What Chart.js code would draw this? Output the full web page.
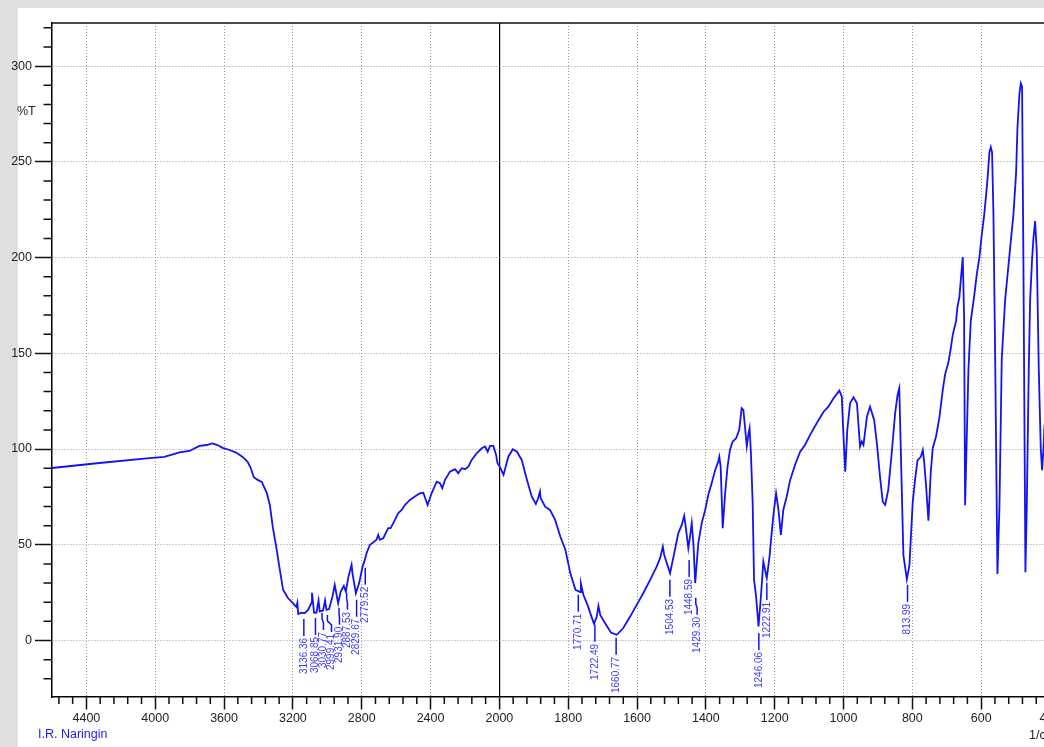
<!DOCTYPE html>
<html>
<head>
<meta charset="utf-8">
<title>I.R. Naringin</title>
<script src="https://cdn.jsdelivr.net/npm/chart.js@4.4.1/dist/chart.umd.min.js"></script>
<style>
  html, body { margin: 0; padding: 0; overflow: hidden; background: #dfdfe1; }
  #panel { position: absolute; left: 18px; top: 8px; right: 0; bottom: 0; background: #fff; }
  #wrap { position: absolute; left: 0; top: 0; width: 1080px; height: 747px; }
</style>
</head>
<body>
<div id="panel"></div>
<div id="wrap"><canvas id="irChart" width="1080" height="747"></canvas></div>
<script>
"use strict";

// spectrum (1/cm, %T)
const wavenumber = [
  4600, 4325, 4034, 3947, 3859, 3801, 3743, 3702, 3667, 3638, 3609, 3568, 3527, 3492, 3463, 3445,
  3428, 3405, 3381, 3352, 3334, 3317, 3294, 3276, 3257, 3230, 3201, 3180, 3174, 3169, 3150, 3131,
  3112, 3092, 3089, 3077, 3063, 3051, 3044, 3025, 3013, 3005, 2990, 2970, 2957, 2937, 2922, 2904,
  2892, 2879, 2859, 2854, 2834, 2815, 2795, 2782, 2772, 2753, 2714, 2704, 2695, 2675, 2646, 2632,
  2607, 2588, 2568, 2549, 2520, 2491, 2463, 2442, 2417, 2394, 2364, 2345, 2332, 2316, 2287, 2258,
  2239, 2219, 2200, 2180, 2161, 2132, 2102, 2083, 2068, 2054, 2035, 2019, 2011, 2000,
  1988, 1974, 1961, 1949, 1935, 1920, 1906, 1894, 1888, 1882, 1880, 1867, 1853, 1838, 1823, 1808,
  1794, 1779, 1765, 1763, 1756, 1744, 1736, 1725, 1717, 1712, 1707, 1693, 1676, 1659, 1640, 1620,
  1601, 1582, 1562, 1543, 1533, 1525, 1521, 1504, 1490, 1480, 1470, 1463, 1458, 1451, 1446, 1441,
  1436, 1431, 1422, 1412, 1402, 1393, 1383, 1373, 1364, 1361, 1357, 1351, 1344, 1337, 1330, 1322,
  1312, 1303, 1296, 1291, 1281, 1276, 1273, 1269, 1264, 1260, 1254, 1247, 1240, 1233, 1223, 1215,
  1208, 1202, 1196, 1189, 1182, 1175, 1165, 1155, 1141, 1126, 1112, 1097, 1078, 1058, 1044, 1029,
  1012, 1005, 1000, 995, 989, 981, 971, 961, 952, 947, 942, 932, 923, 911, 903, 894,
  886, 879, 870, 860, 850, 843, 838, 834, 826, 816, 808.5, 799, 792, 785, 775.5, 769.7,
  766, 760, 753.3, 746.5, 740.7, 731, 721.3, 711.6, 704.8, 695.1, 688.4, 682.5, 672.9, 669, 663.2, 658.3,
  653.5, 649.6, 646.7, 641.9, 637, 630.2, 620.6, 612.8, 605.1, 598.3, 591.5, 585.7, 581.8, 576, 572.1, 568.3,
  564.4, 559.5, 552.7, 546.9, 540.2, 530.5, 523.7, 516, 506.2, 498.5, 494.6, 488.8, 484.9, 481.1, 477.2, 471.4,
  467.5, 461.7, 457.8, 452, 448.1, 443.3, 438.4, 432.6, 426.8, 423, 419, 416, 410, 400
];
const transmittance = [
  90.1, 92.7, 95.3, 95.9, 98.2, 99.0, 101.6, 102.1, 102.9, 102.1, 100.6, 99.5, 98.0, 95.9, 93.3, 90.1,
  85.4, 83.9, 82.8, 77.1, 70.8, 59.3, 47.3, 36.9, 26.5, 22.3, 19.7, 17.6, 19.7, 13.9, 14.5, 14.3,
  16.0, 19.7, 24.9, 14.5, 14.6, 20.9, 15.1, 15.7, 20.9, 16.0, 16.4, 23.0, 29.1, 19.5, 25.6, 28.5,
  25.6, 32.6, 39.5, 35.2, 24.7, 30.0, 38.6, 42.1, 45.6, 49.9, 52.6, 55.2, 52.6, 53.4, 58.7, 58.7,
  63.0, 66.5, 68.2, 70.8, 73.4, 75.2, 76.9, 77.2, 70.8, 76.9, 83.0, 82.2, 79.5, 83.9, 88.2, 89.5,
  87.4, 90.0, 89.5, 90.8, 94.3, 97.8, 100.4, 101.3, 98.6, 101.6, 101.6, 96.9, 92.6, 91.2,
  86.5, 96.0, 99.9, 98.6, 94.3, 83.9, 75.2, 71.3, 74.0, 77.8, 74.3, 69.9, 68.2, 63.0, 54.3, 47.3,
  35.2, 26.5, 25.3, 29.6, 23.9, 18.6, 14.3, 8.7, 12.5, 18.1, 13.4, 9.1, 4.2, 3.0, 6.5, 12.5,
  18.6, 24.7, 31.7, 38.6, 43.0, 49.1, 44.7, 35.2, 47.3, 56.1, 60.4, 65.1, 58.7, 48.2, 54.3, 61.3,
  50.0, 30.0, 50.8, 61.3, 68.2, 76.0, 82.2, 89.1, 93.4, 96.0, 90.8, 58.7, 76.9, 90.8, 99.5, 103.9,
  105.6, 110.0, 121.3, 120.4, 101.3, 108.2, 110.9, 97.8, 71.7, 31.7, 23.0, 7.3, 23.0, 41.2, 32.6, 43.8,
  57.8, 68.2, 76.9, 68.2, 55.2, 68.2, 75.2, 83.9, 91.7, 98.6, 102.1, 107.4, 113.5, 119.5, 122.1, 126.5,
  130.5, 127.3, 106.5, 88.2, 110.0, 123.9, 127.0, 123.9, 101.3, 103.9, 102.1, 116.9, 122.1, 115.2, 103.0, 85.6,
  72.5, 70.8, 78.7, 97.8, 118.7, 128.2, 131.7, 103.0, 44.6, 32.0, 39.2, 72.0, 84.2, 94.1, 95.9, 99.5,
  94.1, 80.6, 62.6, 87.8, 100.4, 106.7, 116.5, 130.9, 139.0, 145.3, 152.5, 159.7, 166.9, 174.1, 179.5, 190.3,
  200.2, 168.7, 70.7, 105.8, 141.7, 166.9, 179.5, 191.2, 200.2, 211.9, 221.8, 232.6, 240.6, 255.0, 257.7, 255.0,
  222.7, 150.7, 34.7, 69.8, 147.1, 177.7, 190.3, 204.7, 222.7, 244.2, 267.6, 285.6, 291.0, 289.2, 195.7, 35.6,
  69.8, 141.7, 177.7, 199.3, 210.1, 219.1, 202.9, 141.7, 100.0, 89.0, 100.0, 112.0, 120.0, 126.0
];

// peak table printed under the curve
const peakLabels = ["3136.36", "3068.85", "3030.77", "2999.41", "2931.90", "2887.53", "2829.67", "2779.52",
  "1770.71", "1722.49", "1660.77", "1504.53", "1448.59", "1429.30", "1246.06", "1222.91", "813.99"];
const peakT = [13.9, 14.4, 17.0, 16.0, 19.7, 27.5, 23.9, 40.6,
  26.5, 10.8, 4.0, 34.3, 44.7, 24.9, 6.6, 32.7, 31.7];

// axes
const xMin = 400, xMax = 4600, xBreak = 2000;
const xTicks = [4400, 4000, 3600, 3200, 2800, 2400, 2000, 1800, 1600, 1400, 1200, 1000, 800, 600, 400];
const yTicks = [0, 50, 100, 150, 200, 250, 300];
const yMin = -29.5, yMax = 322.5;

// above 2000 1/cm the printout uses half the scale of the part below it
const xSpan = (xMax - xBreak) + 2 * (xBreak - xMin);
function toDecimal(v) {
  return v >= xBreak ? (xMax - v) / xSpan : (xMax - xBreak + 2 * (xBreak - v)) / xSpan;
}
function fromDecimal(d) {
  const u = d * xSpan;
  return u <= xMax - xBreak ? xMax - u : xBreak - (u - (xMax - xBreak)) / 2;
}

class SplitScale extends Chart.LinearScale {
  static id = "split";
  static defaults = {};
  getPixelForValue(value) {
    if (value === null || value === undefined) return NaN;
    return this.getPixelForDecimal(toDecimal(value));
  }
  getValueForPixel(pixel) {
    return fromDecimal(this.getDecimalForPixel(pixel));
  }
}
Chart.register(SplitScale);

const minorX = [];
for (let v = 4560; v > xBreak; v -= 80) if (v % 400 !== 0) minorX.push(v);
for (let v = 1960; v > xMin; v -= 40) if (v % 200 !== 0) minorX.push(v);

const tickFont = { family: "'Liberation Sans Narrow', 'Liberation Sans', Arial, sans-serif", size: 12.5 };
const blue = "#1212f4";

const decorations = {
  id: "irDecor",
  afterDatasetsDraw(chart) {
    const { ctx, chartArea: a, scales: { x, y } } = chart;
    ctx.save();
    ctx.beginPath();
    ctx.rect(a.left, a.top, a.right - a.left, a.bottom - a.top);
    ctx.clip();
    ctx.strokeStyle = blue;
    ctx.fillStyle = "#3b3bff";
    ctx.lineWidth = 1.5;
    ctx.font = "10px 'Liberation Sans', Arial, sans-serif";
    let prevX = -100;
    peakLabels.forEach((label, i) => {
      const wn = parseFloat(label);
      const px = x.getPixelForValue(wn);
      const tx = Math.max(px, prevX + 8);
      prevX = tx;
      const y0 = y.getPixelForValue(peakT[i]) + 5;
      ctx.beginPath();
      ctx.moveTo(px, y0);
      ctx.lineTo(px, y0 + 6);
      ctx.lineTo(tx, y0 + 10);
      ctx.lineTo(tx, y0 + 17);
      ctx.stroke();
      ctx.save();
      ctx.translate(tx, y0 + 19);
      ctx.rotate(-Math.PI / 2);
      ctx.textAlign = "right";
      ctx.textBaseline = "middle";
      ctx.fillText(label, 0, 0);
      ctx.restore();
    });
    ctx.restore();
  },
  afterDraw(chart) {
    const { ctx, chartArea: a, scales: { x, y } } = chart;
    ctx.save();
    ctx.strokeStyle = "#111";
    ctx.lineWidth = 1.5;
    ctx.beginPath();
    for (let v = -20; v <= 320; v += 10) {
      if (v % 50 === 0) continue;
      const py = y.getPixelForValue(v);
      ctx.moveTo(a.left - 8.5, py);
      ctx.lineTo(a.left, py);
    }
    minorX.forEach(v => {
      const px = x.getPixelForValue(v);
      ctx.moveTo(px, a.bottom);
      ctx.lineTo(px, a.bottom + 7);
    });
    ctx.moveTo(a.left, a.top);
    ctx.lineTo(a.right, a.top);
    ctx.lineTo(a.right, a.bottom);
    ctx.stroke();

    ctx.font = "12.5px " + tickFont.family;
    ctx.textBaseline = "middle";
    ctx.textAlign = "left";
    ctx.fillStyle = "#222";
    ctx.fillText("%T", 17, 112);
    ctx.fillText("1/cm", 1029, 736);
    ctx.fillStyle = "#1c1cf0";
    ctx.fillText("I.R. Naringin", 38, 735);
    ctx.restore();
  }
};

const points = wavenumber.map((wn, i) => ({ x: wn, y: transmittance[i] }));

new Chart(document.getElementById("irChart"), {
  type: "line",
  data: {
    datasets: [{
      label: "I.R. Naringin",
      data: points,
      borderColor: blue,
      borderWidth: 1.8,
      pointRadius: 0,
      tension: 0,
      fill: false,
    }],
  },
  options: {
    responsive: false,
    animation: false,
    layout: { padding: { left: 0, top: 23, right: 30, bottom: 0 } },
    plugins: {
      legend: { display: false },
      tooltip: { enabled: false },
    },
    scales: {
      x: {
        type: "split",
        min: xMin,
        max: xMax,
        afterBuildTicks: (scale) => { scale.ticks = xTicks.map(v => ({ value: v })); },
        afterFit: (scale) => { scale.height = 50; },
        ticks: {
          autoSkip: false,
          maxRotation: 0,
          padding: 2,
          color: "#222",
          font: tickFont,
          callback: (v) => String(v),
        },
        grid: {
          color: (c) => (c.tick && c.tick.value === xBreak ? "#000" : "#999"),
          lineWidth: (c) => (c.tick && c.tick.value === xBreak ? 1.2 : 1),
          tickColor: "#111",
          tickWidth: 1.5,
          tickLength: 12.5,
        },
        border: {
          color: "#000",
          width: 1.5,
          dash: (c) => (c.type === "tick" && c.tick.value !== xBreak ? [1, 2] : []),
        },
      },
      y: {
        type: "linear",
        min: yMin,
        max: yMax,
        afterBuildTicks: (scale) => { scale.ticks = yTicks.map(v => ({ value: v })); },
        afterFit: (scale) => { scale.width = 52; },
        ticks: {
          padding: 3,
          color: "#222",
          font: tickFont,
          callback: (v) => String(v),
        },
        grid: {
          color: "#999",
          lineWidth: 1,
          tickColor: "#111",
          tickWidth: 1.5,
          tickLength: 17,
        },
        border: {
          color: "#000",
          width: 1.5,
          dash: (c) => (c.type === "tick" ? [1, 2] : []),
        },
      },
    },
  },
  plugins: [decorations],
});
</script>
</body>
</html>
